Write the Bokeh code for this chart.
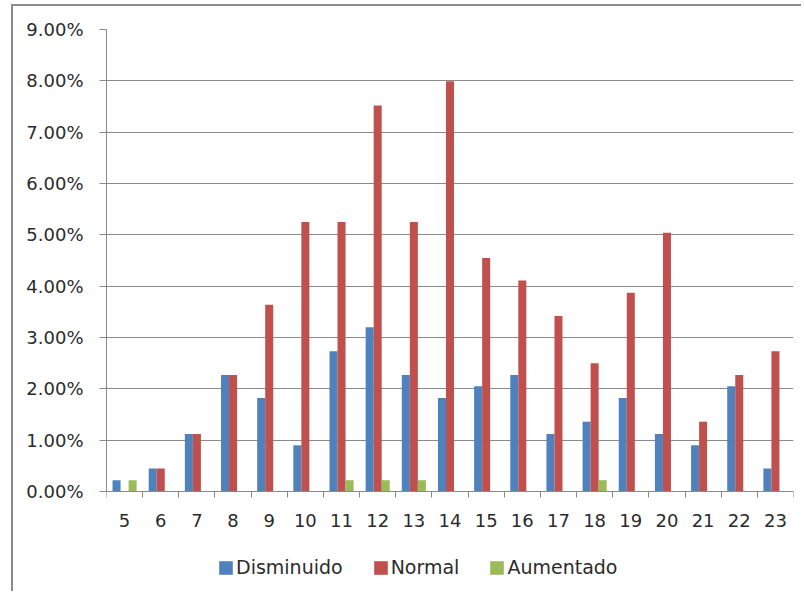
from bokeh.plotting import figure
from bokeh.models import (ColumnDataSource, FixedTicker, PrintfTickFormatter,
                          Legend, LegendItem)
from bokeh.transform import dodge
from bokeh.embed import file_html
from bokeh.resources import INLINE

# Edad (años) y porcentaje de casos por categoría
ages = [5, 6, 7, 8, 9, 10, 11, 12, 13, 14, 15, 16, 17, 18, 19, 20, 21, 22, 23]
disminuido = [0.22, 0.45, 1.12, 2.27, 1.82, 0.90, 2.73, 3.20, 2.27, 1.82,
              2.05, 2.27, 1.12, 1.36, 1.82, 1.12, 0.90, 2.05, 0.45]
normal = [0.00, 0.45, 1.12, 2.27, 3.64, 5.25, 5.25, 7.52, 5.25, 7.99,
          4.55, 4.11, 3.42, 2.50, 3.87, 5.04, 1.36, 2.27, 2.73]
aumentado = [0.22, 0.00, 0.00, 0.00, 0.00, 0.00, 0.22, 0.22, 0.22, 0.00,
             0.00, 0.00, 0.00, 0.22, 0.00, 0.00, 0.00, 0.00, 0.00]
series_names = ["Disminuido", "Normal", "Aumentado"]
y_ticks = [0, 1, 2, 3, 4, 5, 6, 7, 8, 9]

colors = ["#4F81BD", "#C0504D", "#9BBB59"]
FONT = "DejaVu Sans"
TEXT = "#2b2b2b"
GRID = "#8a8a8a"

# Geometría: el área de dibujo llega hasta el borde inferior para alojar
# las etiquetas del eje X y la leyenda debajo del valor 0.
FIG_W, FIG_H = 790, 587
TOP_PAD = 23
AXIS_PX = 462          # altura en píxeles de 0 a 9 %
BELOW_PX = FIG_H - TOP_PAD - AXIS_PX
y_max = y_ticks[-1]
y_min = -BELOW_PX * y_max / AXIS_PX

src = ColumnDataSource(dict(age=ages, dis=disminuido, nor=normal, aum=aumentado))

p = figure(width=FIG_W, height=FIG_H, output_backend="svg", toolbar_location=None,
           x_range=(ages[0] - 0.5, ages[-1] + 0.5), y_range=(y_min, y_max),
           min_border_left=93, min_border_right=10, min_border_top=TOP_PAD,
           min_border_bottom=0)
p.outline_line_color = None
p.background_fill_color = "white"
p.border_fill_color = "white"
p.styles = {"border-top": "2px solid #8c8c8c", "border-left": "2px solid #8c8c8c",
            "margin-left": "11px", "margin-top": "4px"}

bw = 0.222
r1 = p.vbar(x=dodge("age", -bw, range=p.x_range), top="dis", width=bw, source=src,
            fill_color=colors[0], line_color=None)
r2 = p.vbar(x=dodge("age", 0, range=p.x_range), top="nor", width=bw, source=src,
            fill_color=colors[1], line_color=None)
r3 = p.vbar(x=dodge("age", bw, range=p.x_range), top="aum", width=bw, source=src,
            fill_color=colors[2], line_color=None)

# eje X en y = 0: etiquetas centradas, marcas entre categorías
p.xaxis.fixed_location = 0
p.xaxis.ticker = FixedTicker(ticks=ages, minor_ticks=[a - 0.5 for a in ages] + [ages[-1] + 0.5])
p.xaxis.major_tick_out = 0
p.xaxis.major_tick_in = 0
p.xaxis.minor_tick_out = 6
p.xaxis.minor_tick_in = 0
p.xaxis.minor_tick_line_color = GRID
p.xaxis.axis_line_color = GRID
p.xaxis.major_label_standoff = 16
p.xaxis.major_label_text_font = FONT
p.xaxis.major_label_text_font_size = "18px"
p.xaxis.major_label_text_color = TEXT

# eje Y en porcentaje
p.yaxis.ticker = FixedTicker(ticks=y_ticks)
p.yaxis.bounds = (0, y_max)
p.yaxis.formatter = PrintfTickFormatter(format="%.2f%%")
p.yaxis.major_tick_out = 7
p.yaxis.major_tick_in = 0
p.yaxis.minor_tick_line_color = None
p.yaxis.axis_line_color = GRID
p.yaxis.major_tick_line_color = GRID
p.yaxis.major_label_standoff = 16
p.yaxis.major_label_text_font = FONT
p.yaxis.major_label_text_font_size = "18px"
p.yaxis.major_label_text_color = TEXT

p.xgrid.grid_line_color = None
p.ygrid.ticker = FixedTicker(ticks=y_ticks)
p.ygrid.grid_line_color = GRID
p.ygrid.grid_line_width = 1

legend = Legend(items=[LegendItem(label=n, renderers=[r]) for n, r in zip(series_names, [r1, r2, r3])],
                orientation="horizontal", location=(111, 15),
                glyph_width=17, glyph_height=17, label_standoff=2, spacing=29,
                label_text_font=FONT, label_text_font_size="19px",
                label_text_color=TEXT, border_line_color=None,
                background_fill_alpha=0, padding=4, margin=0)
p.add_layout(legend, "center")

open("out.html", "w").write(file_html(p, INLINE))
